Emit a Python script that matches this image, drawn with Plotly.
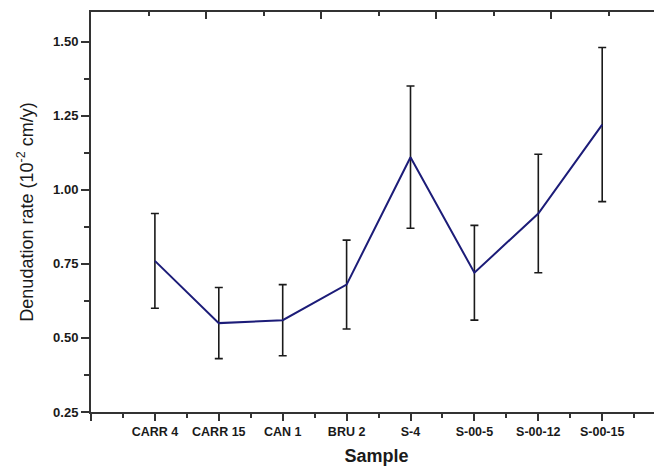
import plotly.graph_objects as go

# values
samples = ['CARR 4', 'CARR 15', 'CAN 1', 'BRU 2', 'S-4', 'S-00-5', 'S-00-12', 'S-00-15']
rate = [0.76, 0.55, 0.56, 0.68, 1.11, 0.72, 0.92, 1.22]
rate_err = [0.16, 0.12, 0.12, 0.15, 0.24, 0.16, 0.20, 0.26]
y_ticks = [0.25, 0.50, 0.75, 1.00, 1.25, 1.50]

pos = list(range(1, len(samples) + 1))
font = 'Liberation Sans, Arial, sans-serif'
axis_col = '#333333'

fig = go.Figure()
fig.add_trace(go.Scatter(
    x=pos, y=rate, mode='lines',
    line=dict(color='#1c1c78', width=2),
    error_y=dict(type='data', array=rate_err, visible=True,
                 color='#1a1a1a', thickness=1.6, width=4),
    showlegend=False,
))
# empty trace so the top / right frame axes get drawn
fig.add_trace(go.Scatter(x=[], y=[], xaxis='x2', yaxis='y2', showlegend=False))

# the page body has an 8px margin, so the figure is sized to fit inside it
fig.update_layout(
    width=654, height=458,
    margin=dict(l=83, r=0, t=4, b=54),
    paper_bgcolor='white', plot_bgcolor='white',
    font=dict(family=font, color='#1a1a1a'),
    xaxis=dict(
        range=[0, 571 / 63.9],
        tickmode='array', tickvals=[0] + pos, ticktext=[' '] + samples,
        ticks='outside', ticklen=7, tickwidth=2, tickcolor=axis_col,
        minor=dict(tickvals=[p - 0.5 for p in pos] + [8.5], ticks='outside',
                   ticklen=4, tickwidth=2, tickcolor=axis_col),
        showline=True, linecolor=axis_col, linewidth=2,
        showgrid=False, zeroline=False,
        tickfont=dict(size=12.5, family=font, weight='bold'),
        title=dict(text='Sample', font=dict(size=18, weight='bold'), standoff=11),
    ),
    yaxis=dict(
        range=[0.25, 1.6],
        tickmode='array', tickvals=y_ticks, ticktext=['%.2f' % v for v in y_ticks],
        ticks='outside', ticklen=8, tickwidth=2, tickcolor=axis_col,
        minor=dict(tickvals=[v + 0.125 for v in y_ticks], ticks='outside',
                   ticklen=5, tickwidth=2, tickcolor=axis_col),
        showline=True, linecolor=axis_col, linewidth=2,
        showgrid=False, zeroline=False,
        tickfont=dict(size=13, family=font, weight='bold'),
        title=dict(text='Denudation rate (10<sup>-2</sup> cm/y)',
                   font=dict(size=18), standoff=15),
    ),
    xaxis2=dict(
        overlaying='x', side='top', anchor='y',
        range=[0, 10 * 571 / 575],
        tickmode='array', tickvals=[0, 2, 4, 6, 8, 10],
        ticks='inside', ticklen=7, tickwidth=2, tickcolor=axis_col,
        minor=dict(tickvals=[1, 3, 5, 7, 9], ticks='inside',
                   ticklen=4, tickwidth=2, tickcolor=axis_col),
        showticklabels=False, showline=True, linecolor=axis_col, linewidth=2,
        showgrid=False, zeroline=False,
    ),
    yaxis2=dict(
        overlaying='y', side='right', anchor='x',
        range=[0.25, 1.6],
        tickmode='array', tickvals=y_ticks,
        ticks='inside', ticklen=7, tickwidth=2, tickcolor=axis_col,
        minor=dict(tickvals=[v + 0.125 for v in y_ticks], ticks='inside',
                   ticklen=4, tickwidth=2, tickcolor=axis_col),
        showticklabels=False, showline=False,
        showgrid=False, zeroline=False,
    ),
)

fig.write_html('out.html')
